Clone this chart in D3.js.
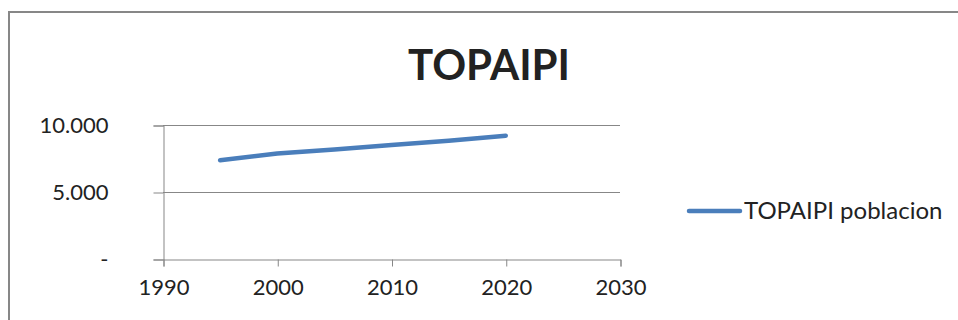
<!DOCTYPE html>
<html>
<head>
<meta charset="utf-8">
<script src="https://cdn.jsdelivr.net/npm/d3@7"></script>
<style>
  html, body { margin: 0; padding: 0; background: #fff; }
  svg { display: block; }
  text { font-family: Lato, "Open Sans", sans-serif; fill: #222; }
</style>
</head>
<body>
<svg id="chart" width="958" height="320"></svg>
<script>
// Population of Topaipi by year
const years = [1995, 2000, 2005, 2010, 2015, 2020];
const poblacion = [7370, 7880, 8180, 8500, 8820, 9200];
const xTicks = [1990, 2000, 2010, 2020, 2030];
const yTicks = [0, 5000, 10000];
const yTickLabels = ["-", "5.000", "10.000"];
const chartTitle = "TOPAIPI";
const seriesName = "TOPAIPI poblacion";

const svg = d3.select("#chart");
const grey = "#878787";
const blue = "#4A7EBB";

// outer chart frame (runs past the right and bottom edges)
svg.append("rect")
  .attr("x", 9).attr("y", 12)
  .attr("width", 1000).attr("height", 400)
  .attr("fill", "none")
  .attr("stroke", grey)
  .attr("stroke-width", 2);

const x = d3.scaleLinear().domain([1990, 2030]).range([163, 620]);
const y = d3.scaleLinear().domain([0, 10000]).range([259, 125]);

// horizontal gridlines
svg.append("g")
  .selectAll("line")
  .data(yTicks.filter(d => d > 0))
  .join("line")
  .attr("x1", x(1990)).attr("x2", x(2030))
  .attr("y1", d => y(d) + 0.5).attr("y2", d => y(d) + 0.5)
  .attr("stroke", grey).attr("stroke-width", 1);

// y axis
const yAxis = svg.append("g")
  .attr("transform", `translate(${x(1990) + 0.5},0.5)`)
  .call(d3.axisLeft(y).tickValues(yTicks).tickSize(10).tickPadding(45)
    .tickFormat((d, i) => yTickLabels[i]));
yAxis.select(".domain").attr("stroke", grey);
yAxis.selectAll(".tick line").attr("stroke", grey);
yAxis.selectAll(".tick text")
  .attr("font-size", 22)
  .attr("font-family", "Lato, 'Open Sans', sans-serif")
  .attr("fill", "#222");

// x axis
const xAxis = svg.append("g")
  .attr("transform", `translate(0.5,${y(0) + 0.5})`)
  .call(d3.axisBottom(x).tickValues(xTicks).tickSize(7).tickPadding(13)
    .tickFormat(d3.format("d")));
xAxis.select(".domain").attr("stroke", grey);
xAxis.selectAll(".tick line").attr("stroke", grey);
xAxis.selectAll(".tick text")
  .attr("font-size", 22)
  .attr("font-family", "Lato, 'Open Sans', sans-serif")
  .attr("fill", "#222");

// population line
svg.append("path")
  .datum(years.map((yr, i) => [yr, poblacion[i]]))
  .attr("fill", "none")
  .attr("stroke", blue)
  .attr("stroke-width", 4.5)
  .attr("stroke-linecap", "round")
  .attr("stroke-linejoin", "round")
  .attr("d", d3.line().x(d => x(d[0])).y(d => y(d[1])));

// title
svg.append("text")
  .attr("x", 489).attr("y", 80)
  .attr("text-anchor", "middle")
  .attr("font-size", 42)
  .attr("font-weight", "bold")
  .attr("fill", "#000")
  .text(chartTitle);

// legend
svg.append("line")
  .attr("x1", 689).attr("x2", 740)
  .attr("y1", 211).attr("y2", 211)
  .attr("stroke", blue).attr("stroke-width", 4.5)
  .attr("stroke-linecap", "round");
svg.append("text")
  .attr("x", 744).attr("y", 219)
  .attr("font-size", 24)
  .text(seriesName);
</script>
</body>
</html>
